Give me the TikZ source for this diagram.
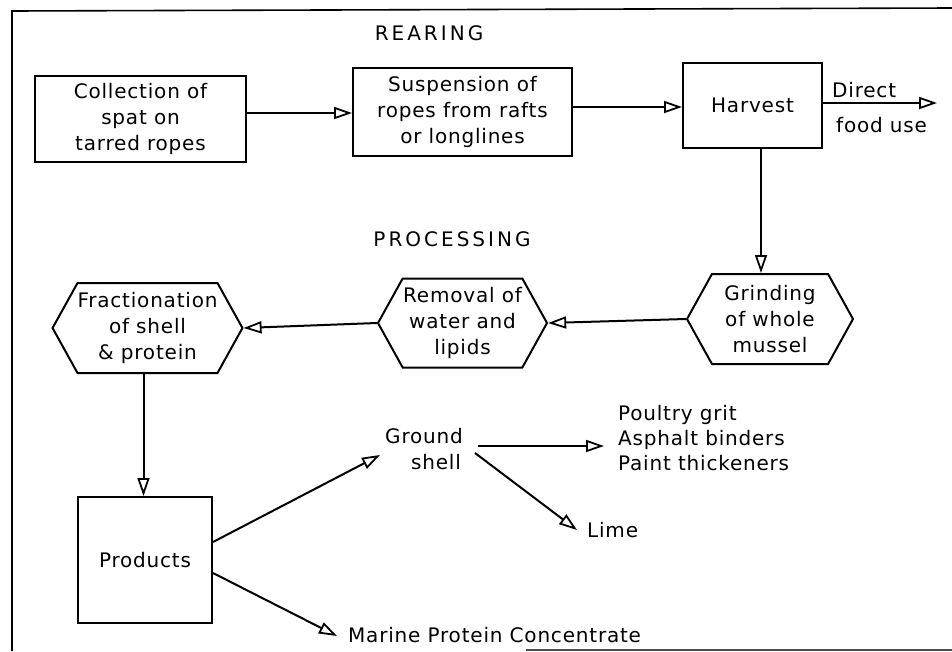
\documentclass[tikz,border=0pt]{standalone}
\usepackage{fontspec}
\setmainfont{DejaVu Sans}
\newfontfamily\spacedfont[LetterSpace=15]{DejaVu Sans}
\newfontfamily\bodyfont[LetterSpace=4]{DejaVu Sans}
\usetikzlibrary{arrows.meta,shapes.symbols}
\begin{document}
\begin{tikzpicture}[x=1pt,y=-1pt,
  every node/.style={font=\bodyfont\fontsize{20}{26}\selectfont, text=black},
  box/.style={draw, line width=2pt, inner sep=0pt, align=center},
  hexa/.style={draw, line width=2pt, shape=signal, signal to=west and east,
    signal pointer angle=122, inner sep=0pt, align=center},
  lbl/.style={inner sep=0pt, align=left, anchor=west},
  ttl/.style={inner sep=0pt, font=\spacedfont\fontsize{20}{24}\selectfont},
  arr/.style={line width=2pt, -{Triangle[open, length=18pt, width=12pt, line width=1.8pt]}},
  ln/.style={line width=2pt}]
\useasboundingbox (0,0) rectangle (952,651);
% frame
\draw[line width=1.6pt] (952,8) -- (12,11) -- (12,651);
\draw[line width=1.6pt, black!70] (526,650) -- (952,650);

% titles
\node[ttl] (rearing) at (429,33) {REARING};
\node[ttl] (processing) at (452,239) {PROCESSING};

% rearing boxes
\node[box, minimum width=211pt, minimum height=86pt] (collect) at (140.5,119) {Collection of\\spat on\\tarred ropes};
\node[box, minimum width=219pt, minimum height=88pt] (susp) at (462.5,112) {Suspension of\\ropes from rafts\\or longlines};
\node[box, minimum width=139pt, minimum height=85pt] (harvest) at (752.5,105.5) {Harvest};

\draw[arr] ([yshift=6pt]collect.east) -- ([yshift=-1pt]susp.west);
\draw[arr] ([yshift=5pt]susp.east) -- ([yshift=-1.5pt]harvest.west);

\coordinate (direct) at (937,103);
\draw[arr] ([yshift=2.5pt]harvest.east) -- (direct);
\node[lbl] (directlbl) at (832,90) {Direct};
\node[lbl] (foodlbl) at (836,125) {food use};

% processing hexagons
\node[hexa, minimum width=166pt, minimum height=90pt] (grind) at (770,319) {Grinding\\of whole\\mussel};
\node[hexa, minimum width=169pt, minimum height=89pt] (remov) at (462.5,323) {Removal of\\water and\\lipids};
\node[hexa, minimum width=179pt, minimum height=90pt] (fract) at (147.5,328) {Fractionation\\of shell\\\& protein};

\coordinate (hd) at ([xshift=8.5pt]harvest.south);
\draw[arr] (hd) -- (hd |- grind.north);
\draw[arr] (grind.west) -- (remov.east);
\draw[arr] (remov.west) -- (fract.east);

% products
\node[box, minimum width=134pt, minimum height=126pt] (products) at (145,560) {Products};
\coordinate (fd) at ([xshift=-4pt]fract.south);
\draw[arr] (fd) -- (fd |- products.north);

\node[align=center, inner sep=0pt] (ground) at (424,449) {Ground\\\hspace*{1.2em}shell};
\coordinate (gsin) at (380,455);
\draw[arr] ([yshift=18pt]products.east) -- (gsin);

\node[lbl, font=\bodyfont\fontsize{20}{25}\selectfont] (uses) at (618,438) {Poultry grit\\Asphalt binders\\Paint thickeners};
\coordinate (gsout) at (478,446);
\coordinate (usesin) at (604,446);
\draw[arr] (gsout) -- (usesin);

\node[lbl] (lime) at (587,530) {Lime};
\coordinate (gslime) at (475,453);
\draw[arr] (gslime) -- ([xshift=-10pt]lime.west);

\node[lbl] (mpc) at (348,635) {Marine Protein Concentrate};
\draw[arr] ([yshift=-13pt]products.east) -- ([xshift=-11pt, yshift=-1pt]mpc.west);
\end{tikzpicture}
\end{document}
